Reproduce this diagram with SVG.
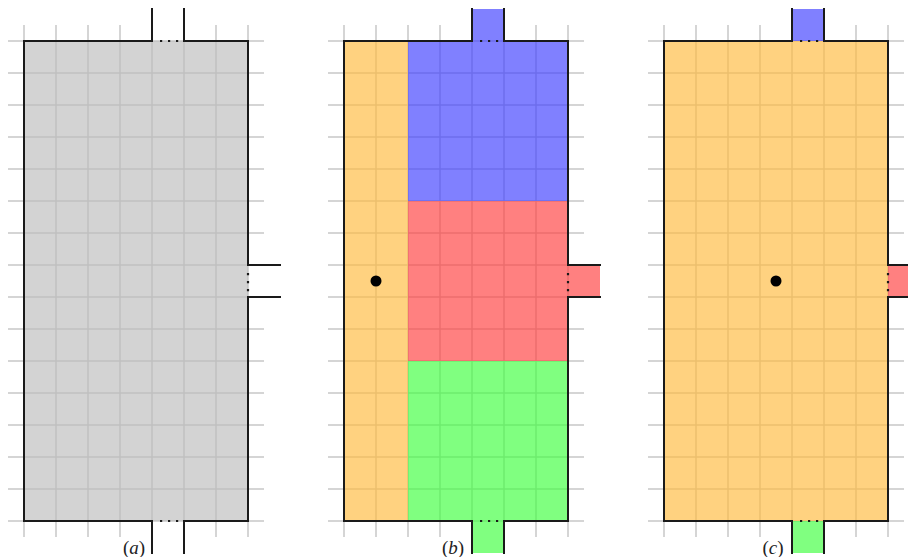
<svg xmlns="http://www.w3.org/2000/svg" width="908" height="557" viewBox="0 0 908 557">
<defs>
<style>
.grid{stroke:#c8c8c8;stroke-width:1.5;fill:none}
.f{fill-opacity:0.655;stroke:none}
.gray{fill:#bcbcbc}
.org{fill:#ffba3d}
.blu{fill:#3d3dff}
.red{fill:#ff3d3d}
.grn{fill:#3dff3d}
.edge{stroke:#1a1a1a;stroke-width:2;fill:none;stroke-linecap:square}
.dots{stroke:#1a1a1a;stroke-width:2.2;fill:none;stroke-dasharray:2.2 5.8}
.lbl{font-family:"Liberation Serif",serif;font-size:19px;fill:#222}
</style>
<g id="gridcell">
<path class="grid" d="M-16 0H240M-16 32H240M-16 64H240M-16 96H240M-16 128H240M-16 160H240M-16 192H240M-16 224H240M-16 256H240M-16 288H240M-16 320H240M-16 352H240M-16 384H240M-16 416H240M-16 448H240M-16 480H240M0 -16V496M32 -16V496M64 -16V496M96 -16V496M128 -16V496M160 -16V496M192 -16V496M224 -16V496"/>
</g>
</defs>
<g id="panel-a">
<use href="#gridcell" x="24" y="41"/>
<rect class="f gray" x="24" y="41" width="224" height="480"/>
<path class="edge" d="M152 9V41H24V521H152V553M184 9V41H248V265H280M280 297H248V521H184V553"/>
<line class="dots" x1="160" y1="41" x2="184" y2="41"/>
<line class="dots" x1="160" y1="521" x2="184" y2="521"/>
<line class="dots" x1="248" y1="273" x2="248" y2="297"/>
<text class="lbl" x="134" y="554" text-anchor="middle">(<tspan font-style="italic">a</tspan>)</text>
</g>
<g id="panel-b">
<use href="#gridcell" x="344" y="41"/>
<rect class="f org" x="344" y="41" width="64" height="480"/>
<rect class="f blu" x="408" y="41" width="160" height="160"/>
<rect class="f red" x="408" y="201" width="160" height="160"/>
<rect class="f grn" x="408" y="361" width="160" height="160"/>
<rect class="f blu" x="472" y="9" width="32" height="32"/>
<rect class="f grn" x="472" y="521" width="32" height="32"/>
<rect class="f red" x="568" y="265" width="32" height="32"/>
<path class="edge" d="M472 9V41H344V521H472V553M504 9V41H568V265H600M600 297H568V521H504V553"/>
<line class="dots" x1="480" y1="41" x2="504" y2="41"/>
<line class="dots" x1="480" y1="521" x2="504" y2="521"/>
<line class="dots" x1="568" y1="273" x2="568" y2="297"/>
<circle cx="376" cy="281" r="5.5" fill="#000"/>
<text class="lbl" x="453" y="554" text-anchor="middle">(<tspan font-style="italic">b</tspan>)</text>
</g>
<g id="panel-c">
<use href="#gridcell" x="664" y="41"/>
<rect class="f org" x="664" y="41" width="224" height="480"/>
<rect class="f blu" x="792" y="9" width="32" height="32"/>
<rect class="f grn" x="792" y="521" width="32" height="32"/>
<rect class="f red" x="888" y="265" width="32" height="32"/>
<path class="edge" d="M792 9V41H664V521H792V553M824 9V41H888V265H920M920 297H888V521H824V553"/>
<line class="dots" x1="800" y1="41" x2="824" y2="41"/>
<line class="dots" x1="800" y1="521" x2="824" y2="521"/>
<line class="dots" x1="888" y1="273" x2="888" y2="297"/>
<circle cx="776" cy="281" r="5.5" fill="#000"/>
<text class="lbl" x="773" y="554" text-anchor="middle">(<tspan font-style="italic">c</tspan>)</text>
</g>
</svg>
